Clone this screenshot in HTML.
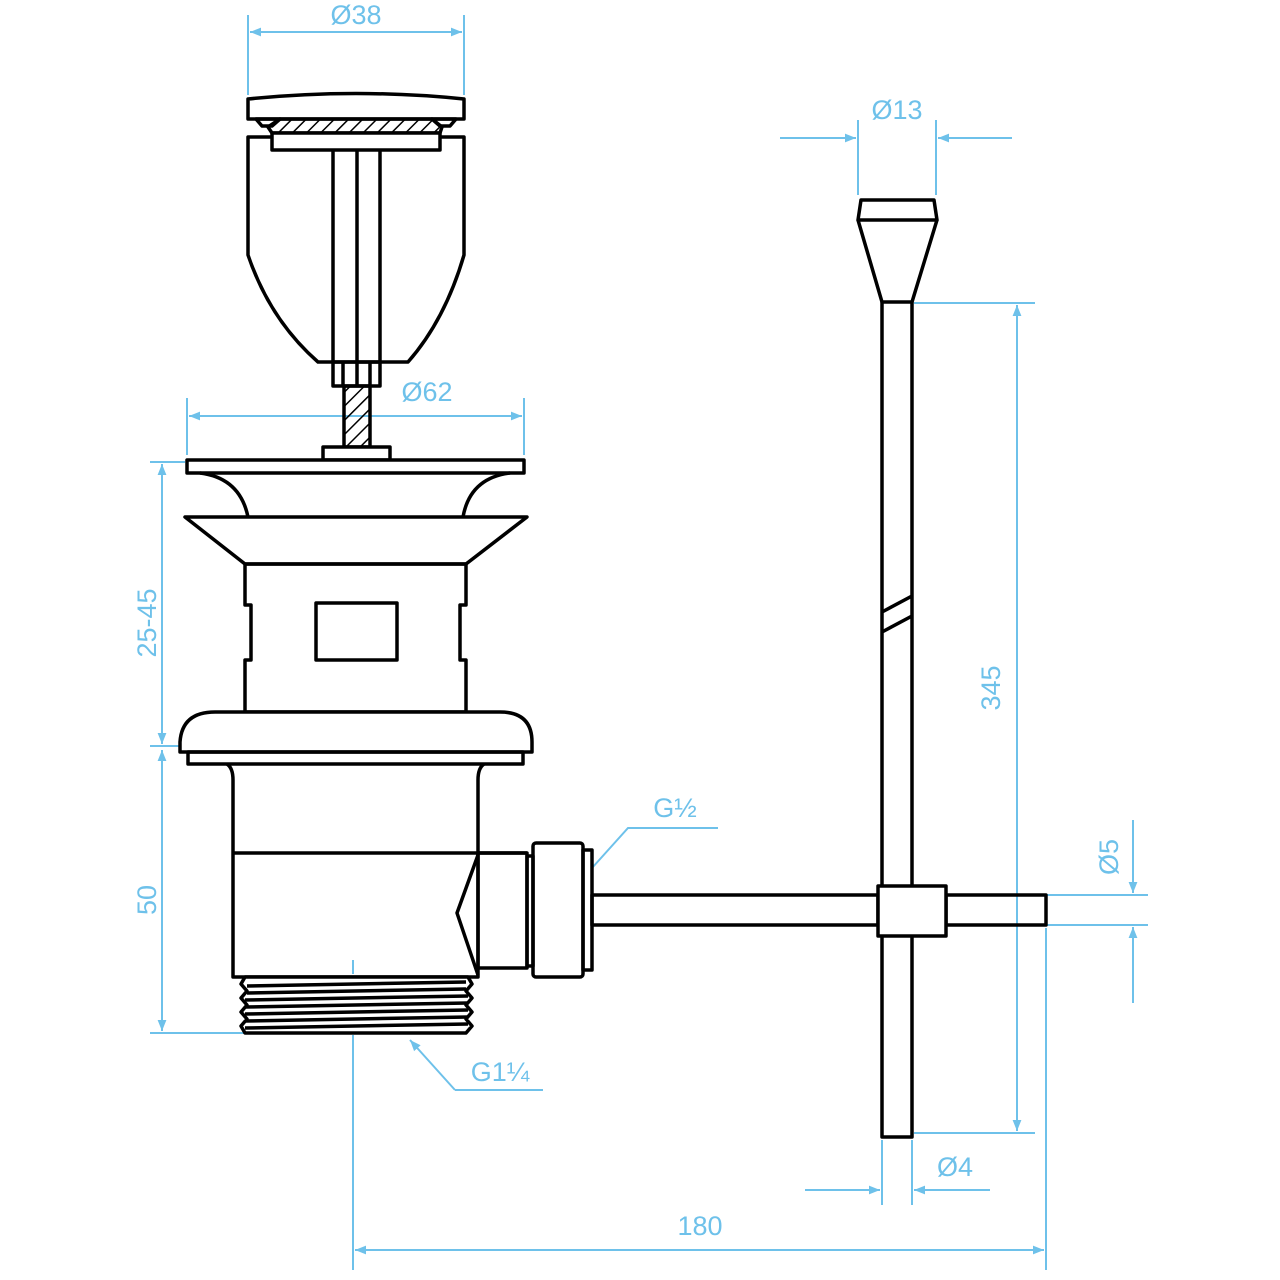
<!DOCTYPE html>
<html><head><meta charset="utf-8"><style>
html,body{margin:0;padding:0;background:#fff;}
svg{display:block;}
text{font-family:"Liberation Sans",sans-serif;fill:#6ec1ea;font-size:27px;}
</style></head><body>
<svg width="1280" height="1280" viewBox="0 0 1280 1280" xmlns="http://www.w3.org/2000/svg">
<defs>
<marker id="a" viewBox="0 0 10 10" refX="10" refY="5" markerWidth="16" markerHeight="11" markerUnits="userSpaceOnUse" orient="auto-start-reverse"><path d="M0,1 L10,5 L0,9 Z" fill="#6ec1ea"/></marker>
<pattern id="h" width="10" height="10" patternUnits="userSpaceOnUse" patternTransform="rotate(45)"><line x1="0" y1="0" x2="0" y2="10" stroke="#000" stroke-width="3"/></pattern>
</defs>
<g stroke="#6ec1ea" stroke-width="2" fill="none">
<line x1="248" y1="15" x2="248" y2="95"/><line x1="464" y1="15" x2="464" y2="95"/>
<line x1="250" y1="32" x2="462" y2="32" marker-start="url(#a)" marker-end="url(#a)"/>
<line x1="858" y1="120" x2="858" y2="195"/><line x1="936" y1="120" x2="936" y2="195"/>
<line x1="780" y1="138" x2="856" y2="138" marker-end="url(#a)"/>
<line x1="1012" y1="138" x2="938" y2="138" marker-end="url(#a)"/>
<line x1="187" y1="398" x2="187" y2="455"/><line x1="524" y1="398" x2="524" y2="455"/>
<line x1="189" y1="416" x2="522" y2="416" marker-start="url(#a)" marker-end="url(#a)"/>
<line x1="150" y1="462" x2="185" y2="462"/><line x1="150" y1="746" x2="180" y2="746"/>
<line x1="162" y1="464" x2="162" y2="744" marker-start="url(#a)" marker-end="url(#a)"/>
<line x1="162" y1="750" x2="162" y2="1031" marker-start="url(#a)" marker-end="url(#a)"/>
<line x1="150" y1="1033" x2="245" y2="1033"/>
<line x1="914" y1="303" x2="1035" y2="303"/><line x1="914" y1="1133" x2="1035" y2="1133"/>
<line x1="1017" y1="305" x2="1017" y2="1131" marker-start="url(#a)" marker-end="url(#a)"/>
<line x1="1046" y1="895" x2="1148" y2="895"/><line x1="1046" y1="925" x2="1148" y2="925"/>
<line x1="1133" y1="820" x2="1133" y2="893" marker-end="url(#a)"/>
<line x1="1133" y1="1003" x2="1133" y2="927" marker-end="url(#a)"/>
<line x1="882" y1="1140" x2="882" y2="1205"/><line x1="912" y1="1140" x2="912" y2="1205"/>
<line x1="805" y1="1190" x2="880" y2="1190" marker-end="url(#a)"/>
<line x1="990" y1="1190" x2="914" y2="1190" marker-end="url(#a)"/>
<line x1="353" y1="1035" x2="353" y2="1270"/><line x1="1046" y1="928" x2="1046" y2="1270"/>
<line x1="355" y1="1250" x2="1044" y2="1250" marker-start="url(#a)" marker-end="url(#a)"/>
<polyline points="592,868 628,828 718,828"/>
<line x1="455" y1="1090" x2="410" y2="1040" marker-end="url(#a)"/>
<line x1="455" y1="1090" x2="543" y2="1090"/>
<line x1="353" y1="960" x2="353" y2="1040" stroke-dasharray="14,4,3,4"/>
</g>
<g fill="#6ec1ea" stroke="none">
<text x="356" y="24" text-anchor="middle">Ø38</text>
<text x="897" y="119" text-anchor="middle">Ø13</text>
<text x="427" y="401" text-anchor="middle">Ø62</text>
<text x="700" y="1235" text-anchor="middle">180</text>
<text x="955" y="1176" text-anchor="middle">Ø4</text>
<text x="675" y="817" text-anchor="middle">G½</text>
<text x="500" y="1081" text-anchor="middle">G1¼</text>
<text transform="translate(156,623) rotate(-90)" text-anchor="middle">25-45</text>
<text transform="translate(156,900) rotate(-90)" text-anchor="middle">50</text>
<text transform="translate(1000,688) rotate(-90)" text-anchor="middle">345</text>
<text transform="translate(1118,857) rotate(-90)" text-anchor="middle">Ø5</text>
</g>
<g stroke="#000" stroke-width="3.5" fill="none" stroke-linejoin="round">
<path d="M248,99 Q356,88 464,99 L464,119 L248,119 Z" fill="#fff"/>
<path d="M256,119 L262,126 L272,126 L280,119 Z"/>
<path d="M432,119 L440,126 L450,126 L456,119 Z"/>
<path d="M280,119 L432,119 L442,127 L440,133 L272,133 L268,127 Z" fill="url(#h)"/>
<rect x="272" y="133" width="168" height="17" fill="#fff"/>
<path d="M272,137 L248,137 L248,255 Q270,320 318,362 L408,362 Q445,320 464,255 L464,137 L440,137"/>
<line x1="333" y1="150" x2="333" y2="362"/><line x1="357" y1="150" x2="357" y2="362"/><line x1="380" y1="150" x2="380" y2="362"/>
<rect x="333" y="362" width="47" height="24"/>
<line x1="343" y1="362" x2="343" y2="386"/><line x1="357" y1="362" x2="357" y2="386"/><line x1="370" y1="362" x2="370" y2="386"/>
<rect x="344" y="386" width="26" height="61" fill="url(#h)"/>
<rect x="323" y="447" width="67" height="13" fill="#fff"/>
<rect x="187" y="460" width="337" height="13" fill="#fff"/>
<path d="M200,473 Q240,478 248,517"/><path d="M510,473 Q470,478 463,517"/>
<path d="M185,517 L527,517 L466,564 L245,564 Z"/>
<path d="M245,564 L466,564 L466,605 L460,605 L460,660 L466,660 L466,712 L245,712 L245,660 L251,660 L251,605 L245,605 Z"/>
<rect x="316" y="603" width="81" height="57"/>
<path d="M180,752 L180,742 Q182,712 215,712 L500,712 Q532,712 532,742 L532,752 Z" fill="#fff"/>
<rect x="188" y="752" width="335" height="12"/>
<path d="M227,764 Q233,768 233,780 L233,977 L478,977 L478,780 Q478,768 484,764"/>
<line x1="233" y1="853" x2="527" y2="853"/>
<path d="M478,855 L457,913 L478,975"/>
<rect x="478" y="853" width="49" height="115"/>
<rect x="527" y="856" width="6" height="110"/>
<rect x="533" y="843" width="50" height="134" rx="3"/>
<rect x="583" y="850" width="9" height="120"/>
<path d="M245,977 L468,977 L472,984 L466,991 L472,998 L466,1005 L472,1012 L466,1019 L472,1026 L466,1033 L245,1033 L241,1026 L247,1019 L241,1012 L247,1005 L241,998 L247,991 L241,984 Z" fill="#fff"/>
<line x1="247" y1="986" x2="466" y2="982"/><line x1="247" y1="993" x2="466" y2="989"/>
<line x1="245" y1="1000" x2="468" y2="996"/><line x1="245" y1="1007" x2="468" y2="1003"/>
<line x1="245" y1="1014" x2="468" y2="1010"/><line x1="245" y1="1021" x2="468" y2="1017"/>
<line x1="245" y1="1028" x2="468" y2="1024"/>
<rect x="592" y="895" width="286" height="30"/>
<rect x="946" y="895" width="100" height="30"/>
<rect x="878" y="886" width="68" height="50" fill="#fff"/>
<path d="M882,302 L882,886 M912,302 L912,886 M882,936 L882,1137 L912,1137 L912,936"/>
<line x1="882" y1="612" x2="912" y2="596"/><line x1="882" y1="632" x2="912" y2="616"/>
<path d="M861,200 L934,200 L937,220 L858,220 Z" fill="#fff"/>
<path d="M858,220 L882,302 L912,302 L937,220"/>
</g>
</svg>
</body></html>
